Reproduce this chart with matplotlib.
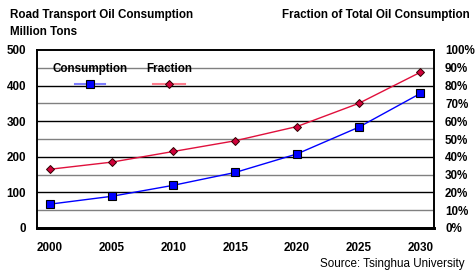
import matplotlib.pyplot as plt
from matplotlib.lines import Line2D

# data
years = [2000, 2005, 2010, 2015, 2020, 2025, 2030]
consumption = [67, 89, 120, 156, 208, 283, 378]      # million tons
fraction = [33, 37, 43, 49, 57, 70, 87.5]            # percent of total oil consumption
left_ticks = [0, 100, 200, 300, 400, 500]
right_ticks = [0, 10, 20, 30, 40, 50, 60, 70, 80, 90, 100]

plt.rcParams['font.family'] = ['Liberation Sans', 'DejaVu Sans']
FS = 8.4

fig = plt.figure(figsize=(4.75, 2.72), dpi=100)
ax = fig.add_axes([37 / 475, 1 - 228 / 272, 397 / 475, 178 / 272])
ax2 = ax.twinx()

# grid lines: grey every 50, black every 100
for v in range(50, 500, 50):
    col = 'black' if v % 100 == 0 else '#808080'
    ax.axhline(v, color=col, lw=1.0, zorder=1)

idx = list(range(len(years)))
ax.plot(idx, consumption, color='#0000ff', lw=1.0, marker='s', ms=6,
        mfc='#0000ff', mec='black', mew=0.8, zorder=3)
ax2.plot(idx, [f * 5 for f in fraction], color='#e0103c', lw=1.0, marker='D', ms=4.5,
         mfc='#d0003a', mec='#300000', mew=0.7, zorder=3)

for a in (ax, ax2):
    a.set_ylim(0, 500)
    a.set_xlim(-0.21, 6.22)

ax.set_xticks(idx)
ax.set_xticklabels([str(y) for y in years], fontsize=FS, fontweight='bold')
ax.set_yticks(left_ticks)
ax.set_yticklabels([str(t) for t in left_ticks], fontsize=FS, fontweight='bold')
ax2.set_yticks([t * 5 for t in right_ticks])
ax2.set_yticklabels([f"{t}%" for t in right_ticks], fontsize=FS, fontweight='bold')
ax.tick_params(axis='x', length=0, pad=10)
ax.tick_params(axis='y', length=0, pad=8)
ax2.tick_params(length=0, pad=8)

for a in (ax, ax2):
    for s in a.spines.values():
        s.set_linewidth(1.2)
    a.spines['bottom'].set_linewidth(2.0)

# legend drawn by hand: labels above the marker samples
ly_text = 1 - 69 / 272
ly_mark = 1 - 84 / 272
fig.text(90 / 475, ly_text, 'Consumption', ha='center', va='center', fontsize=FS, fontweight='bold')
fig.text(169 / 475, ly_text, 'Fraction', ha='center', va='center', fontsize=FS, fontweight='bold')
fig.add_artist(Line2D([75 / 475, 105 / 475], [ly_mark] * 2, color='#7f7fff', lw=1.5))
fig.add_artist(Line2D([90 / 475], [ly_mark], marker='s', ms=6, mfc='#0000ff', mec='black', mew=0.8))
fig.add_artist(Line2D([153 / 475, 185 / 475], [ly_mark] * 2, color='#ff7f8f', lw=1.5))
fig.add_artist(Line2D([169 / 475], [ly_mark], marker='D', ms=4.5, mfc='#d0003a', mec='#300000', mew=0.7))

fig.text(10 / 475, 1 - 15 / 272, 'Road Transport Oil Consumption', fontsize=FS, fontweight='bold', va='center')
fig.text(10 / 475, 1 - 32 / 272, 'Million Tons', fontsize=FS, fontweight='bold', va='center')
fig.text(470 / 475, 1 - 15 / 272, 'Fraction of Total Oil Consumption', fontsize=FS, fontweight='bold',
         va='center', ha='right')
fig.text(465 / 475, 1 - 264 / 272, 'Source: Tsinghua University', fontsize=FS, va='center', ha='right')

fig.savefig('out.png', dpi=100)
